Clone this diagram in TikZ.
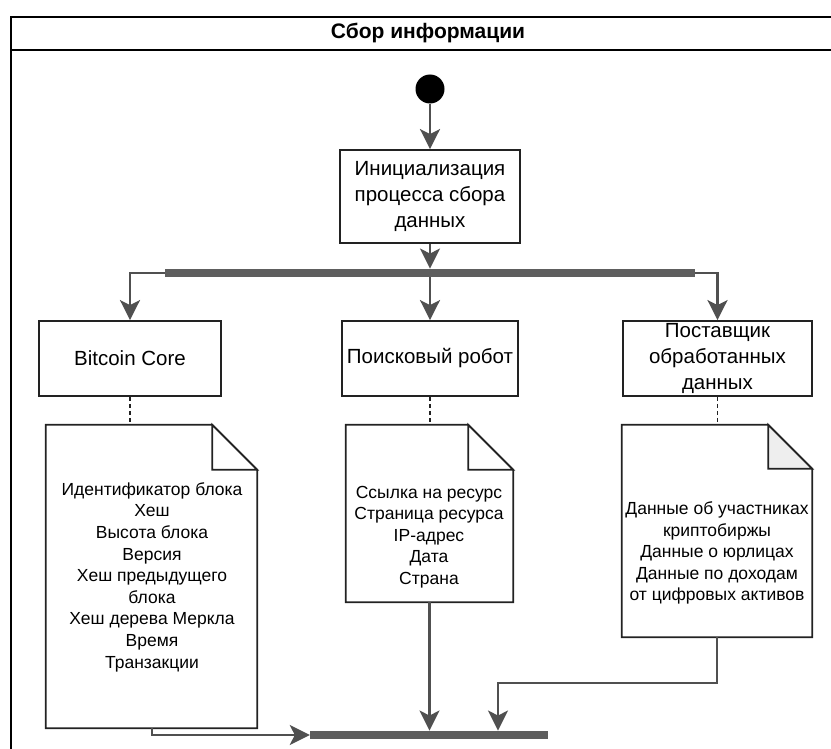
\documentclass[tikz,border=0pt]{standalone}
\usepackage{fontspec}
\setmainfont{Liberation Sans}
\usetikzlibrary{arrows.meta,calc}

\definecolor{linegray}{HTML}{505050}
\definecolor{bargray}{HTML}{5E5E5E}
\definecolor{boxline}{HTML}{222222}
\definecolor{foldgray}{HTML}{EEEEEE}

\tikzset{
  arr/.style={draw=linegray, line width=2.6pt,
    -{Stealth[length=20pt, width=20pt, inset=5pt]}},
  actbox/.style={draw=boxline, line width=1.8pt, fill=white, inner sep=0pt,
    align=center, font=\fontsize{20.5}{26}\selectfont},
  docarea/.style={inner sep=0pt, draw=none},
  doctext/.style={align=center, inner sep=0pt, font=\fontsize{17.5}{21.6}\selectfont},
  docline/.style={draw=boxline, line width=1.8pt, line join=miter},
  bar/.style={fill=bargray, draw=none, inner sep=0pt, minimum height=8.5pt},
  dotlink/.style={draw=boxline, line width=1.6pt, dash pattern=on 4pt off 3pt},
  frameline/.style={draw=black, line width=2pt}
}

\begin{document}
\begin{tikzpicture}[x=1pt, y=-1pt]
\useasboundingbox (0,0) rectangle (831,749);

% swimlane frame and title
\draw[frameline] (11,749) -- (11,17) -- (831,17);
\draw[frameline] (11,50) -- (831,50);
\node[font=\fontsize{21}{24}\selectfont\bfseries] (title) at (428,33) {Сбор информации};

% start state
\node[circle, fill=black, minimum size=29pt, inner sep=0pt] (start) at (430,89) {};

% actions
\node[actbox, minimum width=180pt, minimum height=93pt] (init) at (430,196.5)
  {Инициализация\\процесса сбора\\данных};
\node[bar, minimum width=530pt] (fork) at (430,273) {};

\node[actbox, minimum width=182pt, minimum height=75pt] (bc) at (130,358.5) {Bitcoin Core};
\node[actbox, minimum width=176pt, minimum height=75pt] (robot) at (430,358.5) {Поисковый робот};
\node[actbox, minimum width=189pt, minimum height=75pt] (sup) at (717.5,358.5)
  {Поставщик\\обработанных\\данных};

% documents (outline drawn around named areas)
\node[docarea, minimum width=211pt, minimum height=303pt] (doc1) at (151.5,576.5) {};
\node[docarea, minimum width=167pt, minimum height=177pt] (doc2) at (429.5,513.5) {};
\node[docarea, minimum width=190pt, minimum height=212pt] (doc3) at (717,531) {};

\foreach \d/\f/\c in {doc1/45/white, doc2/45/white, doc3/44/foldgray}{
  \draw[docline, fill=white] (\d.north west) -- ([xshift=-\f pt]\d.north east)
    -- ([yshift=-\f pt]\d.north east) -- (\d.south east) -- (\d.south west) -- cycle;
  \draw[docline, fill=\c] ([xshift=-\f pt]\d.north east) -- ([xshift=-\f pt, yshift=-\f pt]\d.north east)
    -- ([yshift=-\f pt]\d.north east) -- cycle;
}

\node[doctext] (t1) at (152,577)
  {Идентификатор блока\\Хеш\\Высота блока\\Версия\\Хеш предыдущего\\блока\\Хеш дерева Меркла\\Время\\Транзакции};
\node[doctext] (t2) at (429,537)
  {Ссылка на ресурс\\Страница ресурса\\IP-адрес\\Дата\\Страна};
\node[doctext] (t3) at (717,553)
  {Данные об участниках\\криптобиржы\\Данные о юрлицах\\Данные по доходам\\от цифровых активов};

% join bar
\node[bar, minimum width=238pt] (join) at (429,735) {};

% control flow
\draw[arr] (start) -- (init);
\draw[arr] (init.south) -- (fork.north);
\draw[arr] (fork.west) -| (bc.north);
\draw[arr] (fork.south) -- (robot.north);
\draw[arr] (fork.east) -| (sup.north);

% object links
\draw[dotlink] (bc.south) -- (bc.south |- doc1.north);
\draw[dotlink] (robot.south) -- (robot.south |- doc2.north);
\draw[dotlink] (sup.south) -- (sup.south |- doc3.north);

% flows into the join
\draw[arr] ([xshift=0.5pt]doc1.south) |- (join.west);
\draw[arr] (doc2.south) -- (doc2.south |- join.north);
\coordinate (m3) at (498,683);
\draw[arr] (doc3.south) |- (m3) -- (m3 |- join.north);
\end{tikzpicture}
\end{document}
